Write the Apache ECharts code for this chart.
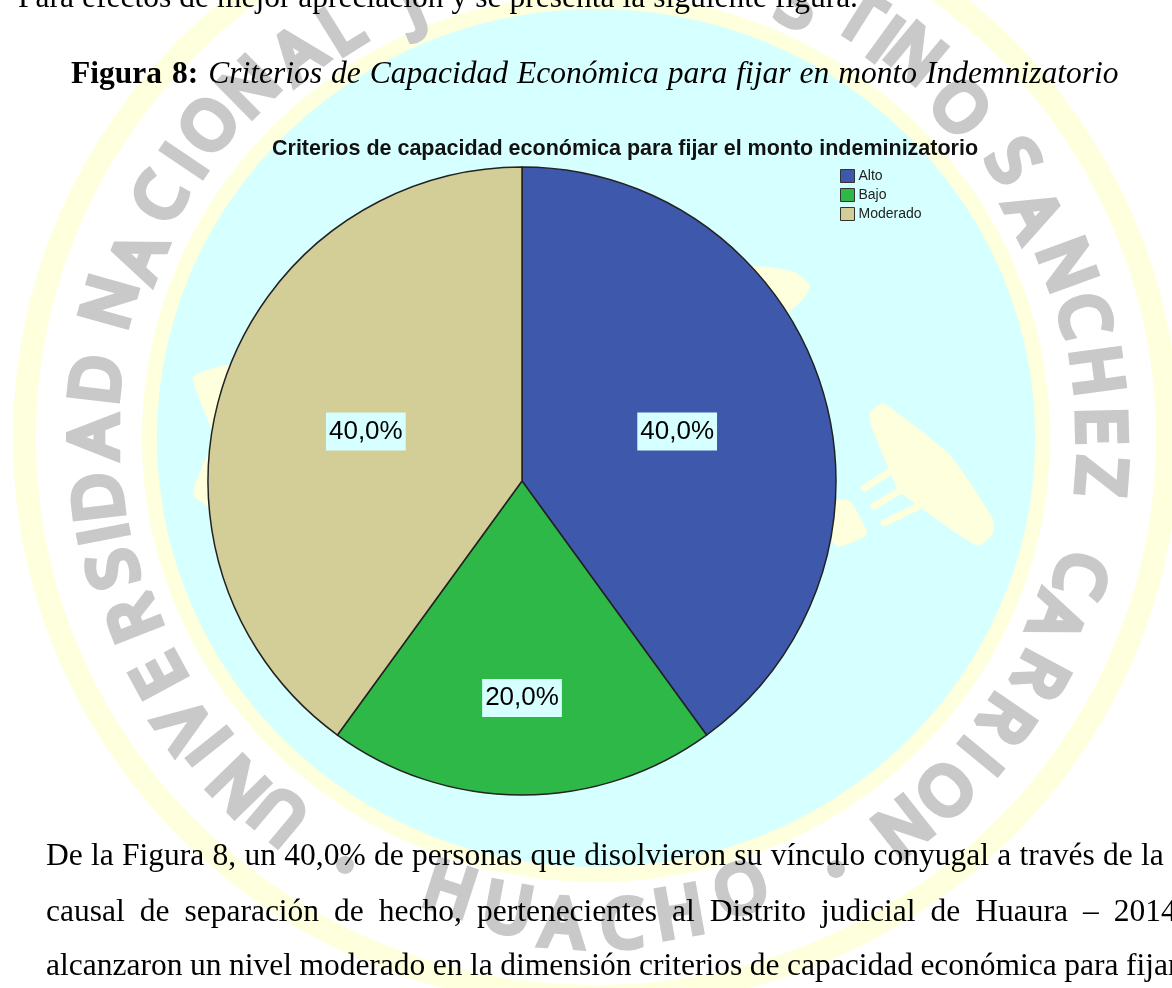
<!DOCTYPE html>
<html>
<head>
<meta charset="utf-8">
<style>
html, body { margin: 0; padding: 0; background: #fff; overflow: hidden; }
.main { width: 1172px; height: 988px; }
</style>
<script src="https://cdn.jsdelivr.net/npm/echarts@6/dist/echarts.min.js"></script>
</head>
<body>
<div class="main"></div>
<script>
// datos del grafico
var categories = ['Alto', 'Bajo', 'Moderado']
var percentages = [40, 20, 40]
var sliceColors = ['#3E58AC', '#2EB848', '#D3CE97']
var chartTitle = 'Criterios de capacidad económica para fijar el monto indeminizatorio'

var SERIF = '"Liberation Serif", "Times New Roman", serif'
var SANS = '"Liberation Sans", Arial, sans-serif'
var PALE = '#feffdc'
var CYAN = '#d6ffff'
var GREY = '#c9c9c9'

var myChart = echarts.init(document.querySelector('.main'))
var graphics = []

// fondo: sello de la universidad
function ring(rx, ry, color, z) {
    graphics.push({
        type: 'ellipse', silent: true, z: z,
        shape: {cx: 596, cy: 438, rx: rx, ry: ry},
        style: {fill: color}
    })
}
ring(583, 570, PALE, 0)
ring(560, 547, '#fff', 0)
ring(454, 444, PALE, 0)
ring(439, 429, CYAN, 0)

function poly(points, z) {
    graphics.push({
        type: 'polygon', silent: true, z: z || 1,
        shape: {points: points, smooth: 0.15},
        style: {fill: PALE}
    })
}
poly([[193, 377], [240, 365], [240, 520], [193, 495], [213, 437]])
poly([[740, 268], [770, 267], [795, 272], [810, 285], [805, 297], [788, 312], [740, 312]])
poly([[870, 412], [883, 403], [950, 455], [993, 519], [993, 534], [977, 546], [917, 505], [898, 490], [883, 455], [870, 423]])
poly([[850, 501], [867, 534], [838, 547], [825, 530], [825, 501]])
var fingers = [[[902, 464], [864, 488]], [[915, 482], [874, 506]], [[925, 503], [884, 523]]]
fingers.forEach(function (f) {
    graphics.push({
        type: 'line', silent: true, z: 1,
        shape: {x1: f[0][0], y1: f[0][1], x2: f[1][0], y2: f[1][1]},
        style: {stroke: PALE, lineWidth: 7, lineCap: 'round'}
    })
})

// letras del sello, alrededor del circulo
var topLetters = [
    ['U', 282, 812], ['N', 242, 783], ['I', 213, 743], ['V', 187, 722], ['E', 163, 673],
    ['R', 138, 617], ['S', 117, 568], ['I', 108, 533], ['D', 102, 497], ['A', 98, 437], ['D', 100, 380],
    ['N', 113, 303], ['A', 142, 258], ['C', 163, 200], ['I', 188, 163], ['O', 212, 128], ['N', 252, 90],
    ['A', 300, 57], ['L', 343, 32], ['J', 413, 7], ['S', 797, 7], ['T', 858, 20], ['I', 883, 43],
    ['N', 913, 57], ['O', 957, 110], ['S', 1010, 163], ['A', 1030, 216], ['N', 1063, 266], ['C', 1080, 316],
    ['H', 1093, 371], ['E', 1097, 426], ['Z', 1097, 476], ['C', 1077, 573], ['A', 1053, 616],
    ['R', 1037, 673], ['R', 1003, 717], ['I', 977, 753], ['O', 942, 787], ['N', 900, 823]
]
var bottomLetters = [['H', 449, 893], ['U', 507, 913], ['A', 562, 927], ['C', 622, 928], ['H', 680, 916], ['O', 742, 893]]

function sealLetter(l, flip) {
    var a = Math.atan2(l[1] - 596, 438 - l[2])
    graphics.push({
        type: 'text', silent: true, z: 1,
        x: l[1], y: l[2],
        rotation: flip ? Math.PI - a : -a,
        style: {
            text: l[0], fill: GREY, stroke: GREY, lineWidth: 7, lineJoin: 'round',
            font: '66px "Open Sans", sans-serif',
            align: 'center', verticalAlign: 'middle'
        }
    })
}
topLetters.forEach(function (l) { sealLetter(l, false) })
bottomLetters.forEach(function (l) { sealLetter(l, true) })
;[[345, 865], [836, 869]].forEach(function (d) {
    graphics.push({
        type: 'circle', silent: true, z: 1,
        shape: {cx: d[0], cy: d[1], r: 9},
        style: {fill: GREY}
    })
})

// texto de la pagina
var measure = document.createElement('canvas').getContext('2d')

function pageText(text, x, baseline, size, gap, weight) {
    var font = (weight || '') + ' ' + size + 'px ' + SERIF
    measure.font = font
    text.split(' ').forEach(function (word) {
        graphics.push({
            type: 'text', silent: true, z: 10,
            x: x, y: baseline - size * 0.77,
            style: {text: word, font: font, fill: '#000', align: 'left'}
        })
        x += measure.measureText(word).width + gap
    })
    return x
}
pageText('Para efectos de mejor apreciación y se presenta la siguiente figura.', 18, 7, 31.5, 8)
var headX = pageText('Figura 8:', 71, 83, 31.5, 10, 'bold')
pageText('Criterios de Capacidad Económica para fijar en monto Indemnizatorio', headX, 83, 31.5, 9, 'italic')
pageText('De la Figura 8, un 40,0% de personas que disolvieron su vínculo conyugal a través de la', 46, 865, 31.5, 8.3)
pageText('causal de separación de hecho, pertenecientes al Distrito judicial de Huaura – 2014', 46, 921, 31.5, 15)
pageText('alcanzaron un nivel moderado en la dimensión criterios de capacidad económica para fijar', 46, 975, 31.5, 7.5)

// ajuste de etiquetas respecto al centro del sector
var labelShift = [[3, 0], [0, 57], [-4, 0]]

var option = {
    animation: false,
    backgroundColor: '#fff',
    title: {
        text: chartTitle,
        left: 272,
        top: 138,
        padding: 0,
        textStyle: {fontFamily: SANS, fontSize: 21.5, fontWeight: 'bold', color: '#111'}
    },
    legend: {
        orient: 'vertical',
        left: 840,
        top: 169,
        padding: 0,
        icon: 'rect',
        itemWidth: 14,
        itemHeight: 13,
        itemGap: 5,
        itemStyle: {borderColor: '#333', borderWidth: 1},
        textStyle: {fontFamily: SANS, fontSize: 14, color: '#222', padding: [0, 0, 0, -1]},
        data: categories
    },
    color: sliceColors,
    graphic: {elements: graphics},
    series: [{
        type: 'pie',
        center: [522, 481],
        radius: [0, 314],
        startAngle: 90,
        clockwise: true,
        silent: true,
        itemStyle: {borderColor: '#222', borderWidth: 1.5},
        label: {
            position: 'inside',
            fontFamily: SANS,
            fontSize: 26,
            color: '#000',
            backgroundColor: CYAN,
            padding: [6, 3],
            formatter: function (p) {
                return p.value.toFixed(1).replace('.', ',') + '%'
            }
        },
        labelLine: {show: false},
        labelLayout: function (p) {
            return {dx: labelShift[p.dataIndex][0], dy: labelShift[p.dataIndex][1]}
        },
        data: categories.map(function (c, i) {
            return {name: c, value: percentages[i]}
        })
    }]
}

myChart.setOption(option)
</script>
</body>
</html>
